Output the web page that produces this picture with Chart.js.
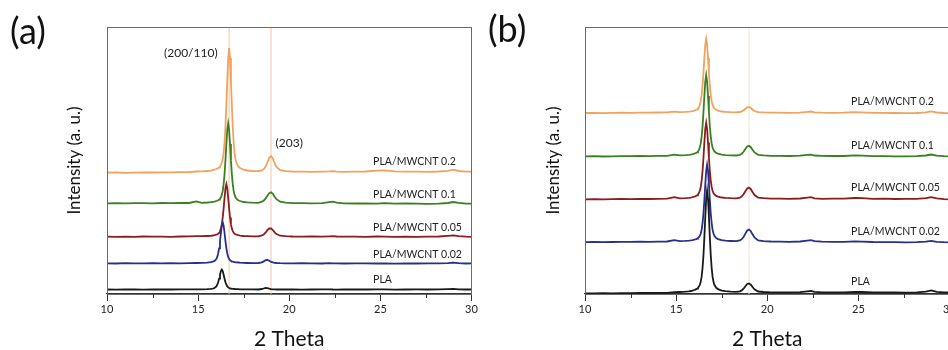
<!DOCTYPE html>
<html>
<head>
<meta charset="utf-8">
<script src="https://cdn.jsdelivr.net/npm/chart.js@4.4.1/dist/chart.umd.min.js"></script>
<style>
  html, body { margin: 0; padding: 0; background: #fff; overflow: hidden; width: 948px; height: 350px; }
  canvas { position: absolute; top: 0; }
  #chartA { left: 0; }
  #chartB { left: 470px; }
</style>
</head>
<body>
<canvas id="chartA" width="480" height="350"></canvas>
<canvas id="chartB" width="490" height="350"></canvas>
<script>
// 2 theta grid (deg), finer around the two crystal peaks
const twoTheta = [
  10, 10.5, 11, 11.5, 12, 12.5, 13, 13.5, 14, 14.5,
  14.9, 15.2, 15.5, 15.7, 15.8, 15.9, 16.0,
  16.05, 16.1, 16.15, 16.2, 16.25, 16.3, 16.35, 16.4, 16.45, 16.5,
  16.55, 16.6, 16.65, 16.7, 16.75, 16.8, 16.85, 16.9, 16.95, 17.0,
  17.05, 17.1, 17.2, 17.3, 17.5, 17.7, 18.0, 18.3,
  18.5, 18.6, 18.7, 18.8, 18.9, 19.0, 19.1, 19.2, 19.3, 19.5,
  19.8, 20.2, 20.7, 21.2, 21.8, 22.2, 22.4, 22.6, 23.0, 23.6,
  24.2, 24.8, 25.2, 25.8, 26.4, 27.0, 27.6, 28.2, 28.7, 29.0,
  29.3, 29.7, 30
];
const xTickLabels = [10, 15, 20, 25, 30];
const seriesNames = ["PLA", "PLA/MWCNT 0.02", "PLA/MWCNT 0.05", "PLA/MWCNT 0.1", "PLA/MWCNT 0.2"];
const seriesColors = ["#1a1a1a", "#26308a", "#8c1d1d", "#3a7f22", "#f0a35e"];

// panel (a) - stacked intensities (a.u.)
const plaA = [
  1.5, 1.4, 1.6, 1.5, 1.4, 1.6, 1.5, 1.5, 1.7, 1.6,
  1.7, 1.7, 1.9, 2.2, 2.4, 3.0, 4.6,
  6.3, 8.8, 12.3, 16.3, 19.9, 21.5, 19.9, 16.3, 12.3, 8.8,
  6.3, 4.6, 3.6, 3.0, 2.7, 2.4, 2.3, 2.2, 2.1, 2.0,
  1.9, 1.9, 1.8, 1.7, 1.7, 1.6, 1.6, 1.5,
  2.0, 2.5, 3.0, 2.8, 2.3, 1.9, 1.7, 1.6, 1.5, 1.6,
  1.5, 1.6, 1.4, 1.5, 1.6, 1.7, 1.5, 1.4, 1.6, 1.5,
  1.5, 1.7, 1.6, 1.4, 1.5, 1.6, 1.5, 1.6, 1.9, 2.2,
  1.7, 1.5, 1.5
];
const mw002A = [
  27.7, 27.5, 27.8, 27.6, 27.7, 27.9, 27.6, 27.8, 27.7, 27.9,
  28.0, 28.1, 28.4, 28.9, 29.3, 30.1, 32.0,
  34.1, 37.5, 42.7, 49.8, 58.0, 65.4, 68.7, 65.4, 58.0, 49.8,
  42.7, 37.5, 34.1, 32.0, 30.8, 30.1, 29.6, 29.3, 29.1, 28.9,
  28.7, 28.6, 28.5, 28.3, 28.1, 28.0, 27.9, 28.0,
  28.6, 29.6, 30.8, 31.0, 30.2, 29.2, 28.6, 28.2, 28.0, 27.8,
  27.7, 27.6, 27.8, 27.7, 27.5, 27.8, 27.6, 27.7, 27.5, 27.6,
  27.7, 27.5, 27.6, 27.4, 27.6, 27.5, 27.7, 27.6, 27.9, 28.3,
  27.8, 27.5, 27.6
];
const mw005A = [
  54.3, 54.1, 54.4, 54.2, 54.5, 54.3, 54.4, 54.2, 54.5, 54.6,
  54.9, 54.8, 55.0, 55.2, 55.5, 55.8, 56.3,
  56.7, 57.3, 58.2, 59.8, 62.4, 66.9, 73.5, 82.7, 93.2, 102.6,
  106.8, 102.6, 93.2, 82.7, 73.5, 66.9, 62.4, 59.8, 58.2, 57.3,
  56.7, 56.3, 55.8, 55.4, 55.0, 54.8, 54.6, 54.7,
  55.6, 56.5, 58.3, 60.8, 62.5, 62.6, 60.9, 58.6, 56.9, 55.3,
  54.8, 54.5, 54.4, 54.6, 54.3, 54.7, 54.9, 54.5, 54.3, 54.4,
  54.2, 54.5, 54.3, 54.1, 54.4, 54.2, 54.3, 54.5, 55.2, 55.6,
  54.8, 54.3, 54.2
];
const mw01A = [
  87.7, 87.9, 87.6, 87.8, 87.9, 87.7, 88.0, 87.8, 88.1, 88.0,
  89.6, 88.2, 88.5, 88.8, 89.1, 89.4, 90.0,
  90.3, 90.8, 91.4, 92.3, 93.7, 96.1, 100.1, 106.9, 116.9, 130.9,
  146.9, 161.3, 167.7, 161.3, 146.9, 130.9, 116.9, 106.9, 100.1, 96.1,
  93.7, 92.3, 90.8, 90.0, 89.0, 88.6, 88.3, 88.2,
  89.3, 90.4, 92.3, 95.2, 97.9, 98.7, 97.2, 94.3, 91.8, 89.3,
  88.3, 87.9, 87.8, 87.6, 87.9, 88.8, 89.3, 88.4, 87.7, 87.5,
  87.6, 87.4, 87.8, 87.3, 87.5, 87.4, 87.2, 87.4, 88.0, 89.0,
  88.2, 87.4, 87.3
];
const mw02A = [
  118.3, 118.5, 118.2, 118.4, 118.6, 118.5, 118.7, 118.6, 118.8, 118.9,
  119.5, 119.6, 120.0, 120.4, 120.8, 121.3, 122.0,
  122.4, 123.0, 123.7, 124.6, 126.1, 128.2, 131.9, 138.1, 148.7, 164.2,
  185.9, 210.7, 232.9, 242.9, 232.9, 210.7, 185.9, 164.2, 148.7, 138.1,
  131.9, 128.2, 124.6, 123.0, 121.3, 120.5, 120.0, 119.8,
  120.6, 121.8, 124.2, 128.5, 133.2, 135.0, 132.6, 127.8, 124.0, 120.8,
  119.8, 119.4, 119.3, 119.2, 119.4, 119.6, 119.8, 119.4, 119.2, 119.3,
  119.5, 120.3, 120.6, 119.6, 119.3, 119.4, 119.2, 119.5, 120.2, 121.3,
  120.0, 119.4, 119.3
];

// panel (b) - stacked intensities (a.u.)
const plaB = [
  -2.3, -2.4, -2.2, -2.3, -2.1, -2.2, -2.0, -2.0, -1.8, -1.9,
  -1.2, -1.0, -0.7, -0.3, 0.0, 0.3, 1.0,
  1.4, 1.9, 2.4, 3.2, 4.4, 6.2, 9.2, 14.3, 23.0, 35.7,
  53.6, 74.0, 92.3, 100.5, 92.3, 74.0, 53.6, 35.7, 23.0, 14.3,
  9.2, 6.2, 3.2, 1.9, 0.4, -0.2, -0.7, -0.9,
  -0.4, 0.6, 2.3, 4.8, 7.0, 7.6, 6.3, 3.8, 1.6, -0.5,
  -1.0, -1.3, -1.4, -1.3, -1.2, -0.3, 0.0, -0.9, -1.3, -1.4,
  -1.3, -0.8, -1.0, -1.4, -1.5, -1.4, -1.6, -1.4, -0.6, 0.6,
  -0.8, -1.4, -1.5
];
const mw002B = [
  48.9, 49.1, 48.8, 49.0, 49.2, 49.1, 49.3, 49.2, 49.4, 49.5,
  50.9, 49.9, 50.1, 50.4, 50.6, 50.9, 51.3,
  51.6, 51.9, 52.4, 52.9, 53.9, 55.2, 57.5, 61.3, 67.9, 77.5,
  91.0, 106.4, 120.2, 126.4, 120.2, 106.4, 91.0, 77.5, 67.9, 61.3,
  57.5, 55.2, 52.9, 51.9, 50.9, 50.3, 50.0, 49.8,
  50.5, 51.8, 54.0, 57.4, 60.5, 61.5, 59.8, 56.4, 53.5, 50.6,
  49.9, 49.5, 49.4, 49.2, 49.5, 50.4, 50.8, 49.8, 49.3, 49.2,
  49.1, 49.6, 49.4, 49.0, 48.9, 48.8, 48.7, 48.8, 49.4, 50.2,
  49.2, 48.8, 48.7
];
const mw005B = [
  91.7, 91.9, 91.6, 91.8, 92.0, 91.9, 92.1, 92.0, 92.2, 92.4,
  93.9, 92.6, 92.9, 93.2, 93.4, 93.8, 94.4,
  94.7, 95.1, 95.7, 96.6, 97.9, 100.2, 104.0, 110.4, 119.9, 133.2,
  148.4, 162.1, 168.2, 162.1, 148.4, 133.2, 119.9, 110.4, 104.0, 100.2,
  97.9, 96.6, 95.1, 94.4, 93.5, 93.1, 92.8, 92.7,
  93.4, 94.6, 96.7, 99.8, 102.6, 103.4, 101.8, 98.7, 96.0, 93.4,
  92.8, 92.4, 92.3, 92.1, 92.5, 93.4, 93.8, 92.7, 92.2, 92.4,
  92.3, 93.0, 92.8, 92.1, 92.3, 92.0, 92.2, 92.1, 92.8, 93.8,
  92.6, 91.9, 91.7
];
const mw01B = [
  134.6, 134.8, 134.5, 134.7, 134.9, 134.8, 135.0, 134.9, 135.1, 135.2,
  136.4, 135.6, 135.9, 136.2, 136.4, 136.8, 137.3,
  137.7, 138.1, 138.7, 139.7, 141.1, 143.5, 147.6, 154.4, 164.6, 178.7,
  194.9, 209.5, 216.0, 209.5, 194.9, 178.7, 164.6, 154.4, 147.6, 143.5,
  141.1, 139.7, 138.1, 137.3, 136.3, 135.9, 135.6, 135.5,
  136.2, 137.3, 139.2, 142.0, 144.6, 145.3, 143.8, 141.0, 138.6, 136.2,
  135.6, 135.2, 135.1, 135.0, 135.3, 136.1, 136.4, 135.5, 135.1, 135.0,
  135.0, 135.6, 135.3, 134.9, 134.8, 134.7, 134.6, 134.8, 135.5, 136.5,
  135.3, 134.8, 134.7
];
const mw02B = [
  178.0, 178.2, 177.9, 178.1, 178.3, 178.2, 178.4, 178.3, 178.5, 178.6,
  179.4, 178.9, 179.1, 179.4, 179.6, 179.9, 180.4,
  180.7, 181.2, 181.7, 182.6, 183.9, 186.1, 189.8, 196.1, 205.3, 218.3,
  233.1, 246.4, 252.3, 246.4, 233.1, 218.3, 205.3, 196.1, 189.8, 186.1,
  183.9, 182.6, 181.2, 180.4, 179.5, 179.1, 178.8, 178.7,
  179.0, 179.6, 180.6, 182.2, 183.6, 184.0, 183.0, 181.3, 180.0, 178.9,
  178.6, 178.4, 178.3, 178.2, 178.4, 179.2, 179.5, 178.7, 178.3, 178.2,
  178.3, 178.8, 178.6, 178.2, 178.1, 178.0, 177.9, 178.0, 178.6, 179.6,
  178.5, 178.0, 177.9
];

// reflection markers
const peakLinesA = [16.7, 19.0];
const peakLinesB = [19.0];

const Y_MIN = -3, Y_MAX = 264;

function buildDatasets(curves, lines, lineColor) {
  const sets = curves.map((vals, i) => ({
    label: seriesNames[i],
    data: twoTheta.map((t, j) => ({ x: t, y: vals[j] })),
    borderColor: seriesColors[i],
    borderWidth: 1.8,
    pointRadius: 0,
    order: i
  }));
  lines.forEach((t) => sets.push({
    label: "",
    isRef: true,
    data: [{ x: t, y: Y_MIN }, { x: t, y: Y_MAX }],
    borderColor: lineColor,
    borderWidth: 1,
    pointRadius: 0,
    order: 20
  }));
  return sets;
}

// frame, minor ticks, curve names, peak notes and panel letter
const xrdText = {
  id: "xrdText",
  afterDraw(chart, args, opts) {
    const { ctx, chartArea: ca, scales: { x, y } } = chart;
    ctx.save();
    ctx.strokeStyle = "#6b6b6b";
    ctx.lineWidth = 1;
    ctx.strokeRect(Math.round(ca.left) + 0.5, Math.round(ca.top) + 0.5, Math.round(ca.right - ca.left) - 1, Math.round(ca.bottom - ca.top));

    ctx.strokeStyle = "#333";
    for (let v = 12.5; v < 30; v += 5) {
      const px = Math.round(x.getPixelForValue(v)) + 0.5;
      ctx.beginPath();
      ctx.moveTo(px, ca.bottom);
      ctx.lineTo(px, ca.bottom + 4);
      ctx.stroke();
    }

    let k = 0;
    twoTheta.forEach((t, i) => { if (Math.abs(t - opts.labelX) < Math.abs(twoTheta[k] - opts.labelX)) k = i; });
    ctx.fillStyle = "#222";
    ctx.font = "10.5px Lato";
    ctx.textAlign = "left";
    ctx.textBaseline = "bottom";
    chart.data.datasets.forEach((ds) => {
      if (ds.isRef) return;
      ctx.fillText(ds.label, x.getPixelForValue(opts.labelX), y.getPixelForValue(ds.data[k].y) - opts.gap);
    });

    ctx.font = "12px Lato";
    ctx.textAlign = "center";
    ctx.textBaseline = "middle";
    ctx.fillStyle = "#222";
    (opts.notes || []).forEach((n) => ctx.fillText(n.text, x.getPixelForValue(n.x), y.getPixelForValue(n.y)));

    ctx.font = "36px Lato";
    ctx.textAlign = "left";
    ctx.fillStyle = "#111";
    ctx.fillText(opts.letter, opts.letterX, opts.letterY);
    ctx.restore();
  }
};

function makeChart(id, curves, lines, lineColor, textOpts, yWidth, yTitlePad, padRight) {
  return new Chart(document.getElementById(id), {
    type: "line",
    data: { datasets: buildDatasets(curves, lines, lineColor) },
    options: {
      responsive: false,
      animation: false,
      events: [],
      layout: { padding: { top: 27, right: padRight, left: 0, bottom: 0 } },
      elements: { line: { tension: 0, fill: false } },
      plugins: { legend: { display: false }, tooltip: { enabled: false }, xrdText: textOpts },
      scales: {
        x: {
          type: "linear", min: 10, max: 30,
          afterFit: (s) => { s.height = 56; },
          ticks: {
            stepSize: 2.5, autoSkip: false, maxRotation: 0, padding: 2, color: "#222",
            font: { family: "Lato", size: 11 },
            callback: (v) => xTickLabels.includes(v) ? v : ""
          },
          grid: {
            display: true, drawOnChartArea: false, drawTicks: true, tickLength: 7, tickWidth: 1,
            tickColor: (c) => (c.tick && xTickLabels.includes(c.tick.value)) ? "#333" : "rgba(0,0,0,0)"
          },
          border: { display: true, color: "#333", width: 1.2 },
          title: { display: true, text: "2 Theta", color: "#111", font: { family: "Lato", size: 21, lineHeight: 1 }, padding: 0 }
        },
        y: {
          min: Y_MIN, max: Y_MAX,
          afterFit: (s) => { s.width = yWidth; },
          ticks: { display: false },
          grid: { display: false, drawTicks: false },
          border: { display: false },
          title: { display: true, text: "Intensity (a. u.)", color: "#111", font: { family: "Lato", size: 17 }, padding: { top: yTitlePad, bottom: 0 } }
        }
      }
    },
    plugins: [xrdText]
  });
}

makeChart("chartA", [plaA, mw002A, mw005A, mw01A, mw02A], peakLinesA, "#f3c6a2", {
  labelX: 24.6, gap: 4, letter: "(a)", letterX: 10, letterY: 32,
  notes: [{ text: "(200/110)", x: 14.6, y: 238 }, { text: "(203)", x: 20.0, y: 148 }]
}, 107, 64, 8.5);

makeChart("chartB", [plaB, mw002B, mw005B, mw01B, mw02B], peakLinesB, "#f1e0d2", {
  labelX: 24.6, gap: 5, letter: "(b)", letterX: 18, letterY: 30, notes: []
}, 115, 73, 10.5);
</script>
</body>
</html>
